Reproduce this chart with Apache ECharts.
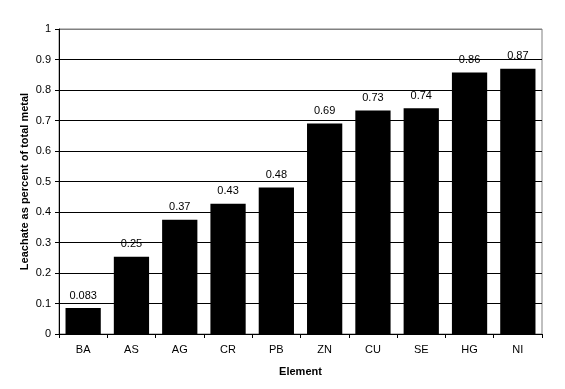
<!DOCTYPE html>
<html><head><meta charset="utf-8">
<script src="https://cdn.jsdelivr.net/npm/echarts@6/dist/echarts.min.js"></script>
<style>html,body{margin:0;padding:0;background:#fff}#c{width:565px;height:389px}</style>
</head><body><div id="c"></div>
<script>
const categories = ['BA','AS','AG','CR','PB','ZN','CU','SE','HG','NI'];
const values = [0.085, 0.253, 0.375, 0.427, 0.48, 0.69, 0.733, 0.74, 0.857, 0.87];
const labelTexts = ['0.083','0.25','0.37','0.43','0.48','0.69','0.73','0.74','0.86','0.87'];
const yTicks = [0,0.1,0.2,0.3,0.4,0.5,0.6,0.7,0.8,0.9,1];

const chart = echarts.init(document.getElementById('c'), null, {renderer:'canvas'});
const font = 'Liberation Sans, Arial, sans-serif';
const splitColors = yTicks.map((t,i)=> i===yTicks.length-1 ? '#808080' : '#000');
chart.setOption({
  animation:false,
  backgroundColor:'#fff',
  grid:{left:59, top:29, right:23, bottom:55, show:true, borderColor:'#808080', borderWidth:1, backgroundColor:'transparent'},
  xAxis:{
    type:'category', data:categories,
    name:'Element', nameLocation:'middle', nameGap:32, nameMoveOverlap:false,
    nameTextStyle:{fontFamily:font, fontSize:11, fontWeight:'bold', color:'#000'},
    axisLine:{lineStyle:{color:'#000', width:1}},
    axisTick:{show:true, alignWithLabel:false, length:4, lineStyle:{color:'#000'}},
    axisLabel:{fontFamily:font, fontSize:11, color:'#000', margin:10},
    splitLine:{show:false}
  },
  yAxis:{
    type:'value', min:0, max:1, interval:0.1,
    name:'Leachate as percent of total metal', nameLocation:'middle', nameGap:29, nameMoveOverlap:false,
    nameTextStyle:{fontFamily:font, fontSize:11, fontWeight:'bold', color:'#000'},
    axisLine:{show:true, lineStyle:{color:'#000', width:1}},
    axisTick:{show:true, length:4, lineStyle:{color:'#000'}},
    axisLabel:{fontFamily:font, fontSize:11, color:'#000', margin:8,
      formatter:v=>{const t=yTicks.find(x=>Math.abs(x-v)<1e-9); return t===undefined?'':String(t);}},
    splitLine:{show:true, lineStyle:{color:splitColors, width:1}}
  },
  series:[{
    type:'bar', data:values, barCategoryGap:'27%',
    itemStyle:{color:'#000'},
    label:{show:true, position:'top', distance:7, fontFamily:font, fontSize:11, color:'#000',
      formatter:p=>labelTexts[p.dataIndex]}
  }]
});
</script></body></html>
